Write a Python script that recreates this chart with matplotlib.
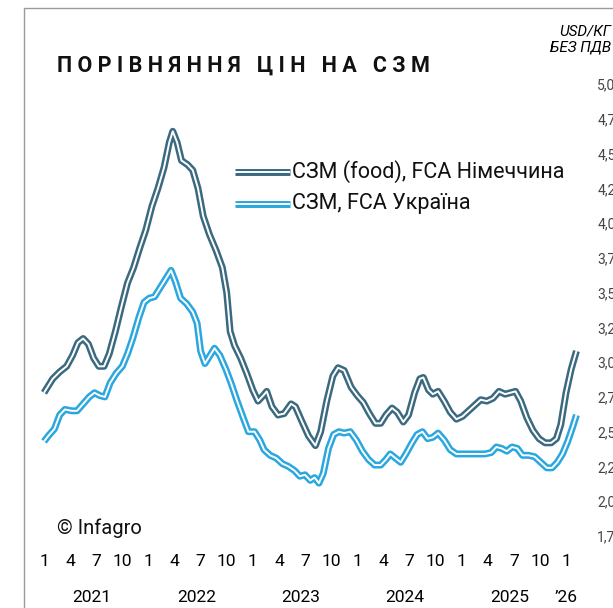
import matplotlib.pyplot as plt
from matplotlib.patches import Rectangle
from matplotlib.ticker import FuncFormatter, FixedLocator

plt.rcParams['font.family'] = ['Roboto', 'DejaVu Sans']

# місяці від січня 2021 (0 = 01.2021)
de_month = [0.0, 1.0, 1.8, 2.6, 3.3, 3.9, 4.5, 5.1, 5.7, 6.3, 6.9, 7.5, 8.2, 8.9, 9.6,
            10.3, 11.0, 11.7, 12.4, 13.1, 13.8, 14.4, 14.8, 15.3, 15.8, 16.5, 17.1,
            17.7, 18.3, 19.0, 19.8, 20.5, 21.0, 21.4, 21.9, 22.6, 23.3, 24.0, 24.6,
            25.2, 25.6, 26.2, 26.9, 27.6, 28.4, 28.9, 29.6, 30.4, 31.2, 31.8, 32.5,
            33.2, 33.8, 34.5, 35.3, 36.0, 36.7, 37.4, 38.1, 38.7, 39.3, 40.0, 40.6,
            41.3, 41.9, 42.6, 43.2, 43.6, 44.2, 44.7, 45.3, 46.0, 46.7, 47.4, 48.1,
            48.8, 49.5, 50.2, 50.9, 51.6, 52.3, 53.0, 53.6, 54.2, 54.8, 55.5, 56.2,
            56.9, 57.6, 58.3, 58.9, 59.4, 60.0, 60.6, 61.2]
de_price = [2.78, 2.88, 2.93, 2.97, 3.05, 3.14, 3.17, 3.13, 3.03, 2.97, 2.97, 3.06, 3.22,
            3.40, 3.57, 3.68, 3.82, 3.95, 4.12, 4.25, 4.40, 4.58, 4.66, 4.58, 4.45, 4.42,
            4.38, 4.25, 4.05, 3.92, 3.80, 3.68, 3.50, 3.22, 3.12, 3.03, 2.92, 2.80, 2.72,
            2.76, 2.79, 2.68, 2.62, 2.63, 2.70, 2.68, 2.58, 2.47, 2.40, 2.50, 2.72, 2.90,
            2.96, 2.94, 2.82, 2.76, 2.71, 2.63, 2.56, 2.56, 2.62, 2.67, 2.64, 2.57, 2.62,
            2.78, 2.88, 2.89, 2.80, 2.77, 2.79, 2.72, 2.64, 2.59, 2.61, 2.65, 2.69, 2.73,
            2.72, 2.74, 2.79, 2.77, 2.78, 2.79, 2.72, 2.60, 2.51, 2.45, 2.42, 2.42, 2.45,
            2.55, 2.78, 2.95, 3.08]

ua_month = [0.0, 0.5, 1.2, 1.8, 2.4, 3.2, 3.8, 4.5, 5.2, 5.8, 6.4, 7.0, 7.6, 8.3, 9.0,
            9.6, 10.2, 10.9, 11.5, 12.1, 12.7, 13.3, 14.0, 14.6, 15.1, 15.7, 16.4, 17.1,
            17.6, 18.0, 18.5, 19.0, 19.6, 20.2, 20.9, 21.5, 22.2, 22.9, 23.5, 24.2, 24.8,
            25.3, 26.0, 26.7, 27.4, 28.1, 28.8, 29.4, 30.0, 30.6, 31.1, 31.6, 32.1, 32.7,
            33.3, 33.9, 34.5, 35.2, 35.9, 36.6, 37.3, 38.0, 38.7, 39.3, 39.8, 40.4, 41.0,
            41.6, 42.3, 42.9, 43.5, 44.1, 44.7, 45.3, 46.0, 46.7, 47.4, 48.5, 49.6, 50.7,
            51.4, 52.0, 52.6, 53.2, 53.8, 54.4, 55.0, 55.7, 56.4, 57.1, 57.8, 58.4, 59.0,
            59.6, 60.2, 60.8, 61.2]
ua_price = [2.43, 2.47, 2.52, 2.62, 2.66, 2.65, 2.65, 2.70, 2.75, 2.78, 2.76, 2.75, 2.85,
            2.92, 2.97, 3.06, 3.17, 3.32, 3.43, 3.46, 3.47, 3.53, 3.60, 3.66, 3.58, 3.46,
            3.42, 3.36, 3.28, 3.08, 2.99, 3.04, 3.10, 3.05, 2.95, 2.85, 2.72, 2.60, 2.50,
            2.50, 2.44, 2.37, 2.33, 2.31, 2.27, 2.25, 2.22, 2.18, 2.19, 2.15, 2.17, 2.13,
            2.20, 2.38, 2.48, 2.50, 2.49, 2.50, 2.44, 2.36, 2.30, 2.26, 2.26, 2.30, 2.34,
            2.31, 2.28, 2.34, 2.42, 2.48, 2.50, 2.45, 2.46, 2.49, 2.44, 2.37, 2.34, 2.34,
            2.34, 2.34, 2.35, 2.39, 2.38, 2.36, 2.39, 2.38, 2.33, 2.33, 2.32, 2.28, 2.24,
            2.24, 2.28, 2.34, 2.43, 2.54, 2.62]

month_ticks = [0, 3, 6, 9, 12, 15, 18, 21, 24, 27, 30, 33, 36, 39, 42, 45, 48, 51, 54, 57, 60]
month_labels = ['1', '4', '7', '10'] * 5 + ['1']
year_ticks = [5.5, 17.5, 29.5, 41.5, 53.5, 60]
year_labels = ['2021', '2022', '2023', '2024', '2025', '\u201926']
y_ticks = [1.75, 2.0, 2.25, 2.5, 2.75, 3.0, 3.25, 3.5, 3.75, 4.0, 4.25, 4.5, 4.75, 5.0]

DARK = '#3b6a80'
LIGHT = '#2aa7df'

W, H = 613, 608
fig = plt.figure(figsize=(W / 100, H / 100), dpi=100)

# рамка
fig.patches.append(Rectangle((24 / W, -0.1), 2, (600 / H) + 0.1, transform=fig.transFigure,
                             fill=False, edgecolor='#9a9a9a', lw=1))

x0, x1 = 44, 44 + 62 * 8.7
y_top, y_bot = 84, 536
ax = fig.add_axes([x0 / W, (H - y_bot) / H, (x1 - x0) / W, (y_bot - y_top) / H])
ax.set_xlim(0, 62)
ax.set_ylim(1.75, 5.0)
for s in ax.spines.values():
    s.set_visible(False)
ax.patch.set_alpha(0)


def double_line(x, y, color):
    ax.plot(x, y, color=color, lw=5, solid_capstyle='butt', solid_joinstyle='round',
            clip_on=False)
    ax.plot(x, y, color='white', lw=1.4, solid_capstyle='butt', solid_joinstyle='round',
            clip_on=False)


double_line(de_month, de_price, DARK)
double_line(ua_month, ua_price, LIGHT)

ax.yaxis.tick_right()
ax.set_yticks(y_ticks)
ax.yaxis.set_major_formatter(FuncFormatter(lambda v, _: f'{v:.2f}'.replace('.', ',')))
ax.tick_params(axis='y', length=0, pad=10, labelsize=10, labelcolor='#444444')

ax.xaxis.remove_overlapping_locs = False
ax.xaxis.set_major_locator(FixedLocator(month_ticks))
ax.set_xticklabels(month_labels)
ax.xaxis.set_minor_locator(FixedLocator(year_ticks))
ax.xaxis.set_minor_formatter(FuncFormatter(lambda v, i: year_labels[i]))
ax.tick_params(axis='x', which='major', length=0, pad=13, labelsize=12.5)
ax.tick_params(axis='x', which='minor', length=0, pad=39, labelsize=12.5)

# легенда
lx0, lx1, ltx = 235, 290, 292
for yy, col, txt in [(172, DARK, 'СЗМ (food), FCA Німеччина'), (204, LIGHT, 'СЗМ, FCA Україна')]:
    fy = (H - yy) / H
    fig.add_artist(plt.Line2D([lx0 / W, lx1 / W], [fy, fy], color=col, lw=5,
                              solid_capstyle='butt', transform=fig.transFigure))
    fig.add_artist(plt.Line2D([lx0 / W, lx1 / W], [fy, fy], color='white', lw=1.4,
                              solid_capstyle='butt', transform=fig.transFigure))
    fig.text(ltx / W, fy, txt, fontsize=15.5, va='center', ha='left', color='#111111')

fig.text(57 / W, (H - 66) / H, 'П О Р І В Н Я Н Н Я   Ц І Н   Н А   С З М',
         fontsize=15.5, fontweight='bold', va='center', ha='left', color='#111111')
fig.text(611 / W, (H - 31) / H, 'USD/КГ', fontsize=11, style='italic', ha='right', va='center')
fig.text(611 / W, (H - 48) / H, 'БЕЗ ПДВ', fontsize=11, style='italic', ha='right', va='center')
fig.text(57 / W, (H - 528) / H, '© Infagro', fontsize=14.5, ha='left', va='center', color='#111111')

fig.savefig('out.png', dpi=100)
